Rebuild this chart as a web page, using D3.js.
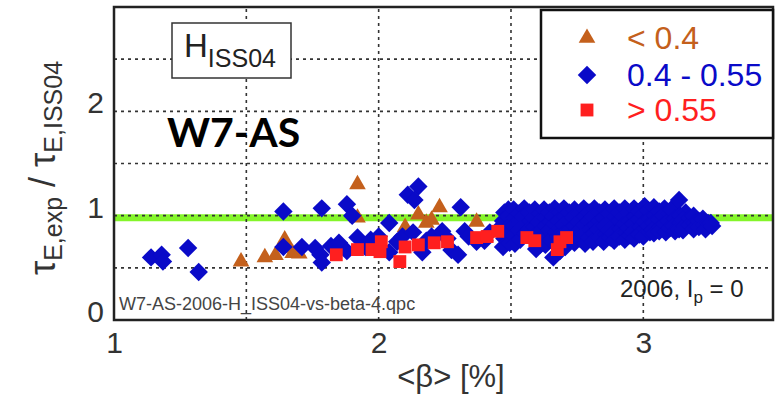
<!DOCTYPE html>
<html>
<head>
<meta charset="utf-8">
<script src="https://cdn.jsdelivr.net/npm/d3@7"></script>
<style>
  body { margin: 0; background: #fff; }
  svg { display: block; font-family: "Liberation Sans", Arial, sans-serif; }
</style>
</head>
<body>
<div id="chart"></div>
<script>
// tick values and grid
const xTicks = [1, 2, 3];
const yTicks = [0, 1, 2];
const xGrid = [1.5, 2, 2.5, 3];
const yGrid = [0.5, 1, 1.5, 2, 2.5];
const refLevel = 0.98;

const legendLabels = ["< 0.4", "0.4 - 0.55", "> 0.55"];

// <beta> [%], tau ratio  --  "< 0.4"
const lowBeta = [
  [1.48, 0.56], [1.57, 0.60], [1.61, 0.62], [1.645, 0.77], [1.66, 0.69],
  [1.675, 0.64], [1.70, 0.635], [1.92, 1.30], [1.92, 0.98], [2.10, 0.89],
  [2.15, 1.01], [2.18, 0.93], [2.20, 0.96], [2.23, 1.08], [2.37, 0.94]
];

// "0.4 - 0.55"
const midBeta = [
  [1.14, 0.60], [1.18, 0.625], [1.185, 0.56], [1.28, 0.69], [1.32, 0.46],
  [1.64, 1.04], [1.785, 1.07], [1.88, 1.11], [1.90, 1.00],
  [1.64, 0.70], [1.71, 0.70], [1.76, 0.69], [1.78, 0.625], [1.785, 0.55],
  [1.82, 0.71], [1.85, 0.74], [1.88, 0.66], [1.92, 0.79], [1.95, 0.70],
  [1.97, 0.77], [2.00, 0.80], [2.04, 0.93], [2.07, 0.75], [2.04, 0.65],
  [2.09, 0.80], [2.11, 1.20], [2.15, 1.28], [2.135, 1.15],
  [2.13, 0.84], [2.165, 0.65], [2.18, 0.76], [2.20, 0.80], [2.24, 0.85],
  [2.26, 0.78], [2.275, 0.67], [2.30, 0.625], [2.325, 0.85], [2.31, 1.08],
  [2.34, 0.80], [2.37, 0.75], [2.40, 0.76], [2.42, 0.84], [2.46, 0.89],
  [2.49, 1.06], [2.505, 0.96],
  [2.475, 1.03], [2.47, 0.95], [2.48, 0.86], [2.475, 0.78], [2.47, 0.70],
  [2.49, 0.99], [2.495, 0.90], [2.49, 0.82], [2.495, 0.74],
  [2.51, 1.06], [2.515, 0.98], [2.51, 0.90], [2.51, 0.81], [2.515, 0.73],
  [2.53, 1.02], [2.535, 0.94], [2.53, 0.86], [2.535, 0.77],
  [2.55, 1.07], [2.545, 0.99], [2.55, 0.91], [2.555, 0.83],
  [2.57, 1.03], [2.575, 0.95], [2.57, 0.87], [2.575, 0.80],
  [2.59, 1.06], [2.585, 0.98], [2.59, 0.89], [2.59, 0.81], [2.595, 0.68],
  [2.61, 1.02], [2.605, 0.94], [2.61, 0.85], [2.61, 0.72],
  [2.625, 1.06], [2.63, 0.98], [2.63, 0.90], [2.625, 0.81], [2.63, 0.72],
  [2.645, 1.03], [2.65, 0.94], [2.645, 0.86], [2.65, 0.77],
  [2.665, 1.07], [2.66, 0.99], [2.665, 0.92], [2.67, 0.84], [2.66, 0.60],
  [2.685, 1.03], [2.68, 0.95], [2.685, 0.88], [2.68, 0.80], [2.685, 0.66],
  [2.70, 1.07], [2.705, 0.99], [2.70, 0.91], [2.70, 0.83], [2.705, 0.70],
  [2.72, 1.03], [2.72, 0.95], [2.725, 0.87], [2.72, 0.78],
  [2.74, 1.06], [2.735, 0.98], [2.74, 0.90], [2.745, 0.82], [2.74, 0.74],
  [2.76, 1.02], [2.755, 0.94], [2.76, 0.86], [2.76, 0.78],
  [2.775, 1.07], [2.78, 0.99], [2.78, 0.91], [2.775, 0.82], [2.78, 0.73],
  [2.795, 1.03], [2.795, 0.95], [2.80, 0.87], [2.795, 0.79],
  [2.815, 1.07], [2.81, 0.99], [2.82, 0.91], [2.815, 0.83], [2.81, 0.75],
  [2.835, 1.03], [2.835, 0.95], [2.83, 0.87], [2.835, 0.79],
  [2.855, 1.06], [2.85, 0.98], [2.855, 0.90], [2.86, 0.82], [2.85, 0.75],
  [2.87, 1.02], [2.875, 0.94], [2.87, 0.86], [2.875, 0.79],
  [2.89, 1.07], [2.895, 0.99], [2.89, 0.91], [2.885, 0.83], [2.89, 0.76],
  [2.91, 1.03], [2.91, 0.95], [2.915, 0.87], [2.91, 0.80],
  [2.93, 1.07], [2.925, 0.99], [2.93, 0.92], [2.935, 0.84], [2.93, 0.77],
  [2.945, 1.03], [2.95, 0.95], [2.945, 0.88], [2.95, 0.81],
  [2.965, 1.07], [2.97, 0.99], [2.965, 0.92], [2.96, 0.84], [2.965, 0.78],
  [2.985, 1.04], [2.985, 0.96], [2.99, 0.89], [2.985, 0.82],
  [3.005, 1.09], [3.00, 1.01], [3.005, 0.94], [3.01, 0.87], [3.00, 0.80],
  [3.02, 1.05], [3.025, 0.97], [3.02, 0.90], [3.025, 0.84],
  [3.04, 1.08], [3.045, 1.00], [3.04, 0.93], [3.035, 0.86], [3.04, 0.83],
  [3.06, 1.04], [3.06, 0.96], [3.065, 0.89], [3.06, 0.85],
  [3.08, 1.07], [3.075, 1.00], [3.08, 0.92], [3.085, 0.84],
  [3.10, 1.02], [3.095, 0.95], [3.10, 0.88],
  [3.105, 1.06], [3.12, 0.97], [3.115, 0.90], [3.12, 0.85], [3.135, 1.15],
  [3.14, 1.00], [3.14, 0.93], [3.135, 0.87],
  [3.16, 1.03], [3.15, 0.96], [3.155, 0.90], [3.15, 0.86],
  [3.175, 0.98], [3.175, 0.91],
  [3.19, 1.00], [3.195, 0.93], [3.19, 0.87],
  [3.21, 0.95], [3.21, 0.89],
  [3.225, 0.97], [3.23, 0.91], [3.235, 0.87],
  [3.245, 0.93], [3.255, 0.93], [3.26, 0.90]
];

// "> 0.55"
const highBeta = [
  [1.84, 0.625], [1.92, 0.675], [1.975, 0.675], [2.01, 0.75], [2.005, 0.655],
  [2.08, 0.56], [2.10, 0.70], [2.15, 0.72], [2.21, 0.74], [2.26, 0.75],
  [2.37, 0.79], [2.41, 0.80], [2.45, 0.85], [2.56, 0.79], [2.59, 0.76],
  [2.675, 0.675], [2.685, 0.75], [2.71, 0.79]
];

const width = 775, height = 402;
const colors = { low: "#c4601c", mid: "#0a0ac8", high: "#ff1f1f" };

const svg = d3.select("#chart").append("svg")
  .attr("width", width)
  .attr("height", height);

const x = d3.scaleLinear().domain([1, 3.49]).range([114, 773]);
const y = d3.scaleLinear().domain([0, 3]).range([320, 7]);

// reference line at ~1
svg.append("line")
  .attr("x1", x.range()[0]).attr("x2", x.range()[1])
  .attr("y1", y(refLevel)).attr("y2", y(refLevel))
  .attr("stroke", "#84f52a")
  .attr("stroke-width", 7);

// dotted grid
svg.append("g").selectAll("line")
  .data(xGrid).join("line")
  .attr("x1", d => x(d)).attr("x2", d => x(d))
  .attr("y1", y.range()[0]).attr("y2", y.range()[1])
  .attr("stroke", "#333").attr("stroke-width", 1.6)
  .attr("stroke-dasharray", "3,4");

svg.append("g").selectAll("line")
  .data(yGrid).join("line")
  .attr("x1", x.range()[0]).attr("x2", x.range()[1])
  .attr("y1", d => y(d)).attr("y2", d => y(d))
  .attr("stroke", "#333").attr("stroke-width", 1.6)
  .attr("stroke-dasharray", "3,4");

// small file name label
svg.append("text")
  .attr("x", 119).attr("y", 310)
  .attr("font-size", 18).attr("fill", "#444")
  .text("W7-AS-2006-H_ISS04-vs-beta-4.qpc");

// markers
const tri = d3.symbol().type(d3.symbolTriangle).size(120);
const sq = d3.symbol().type(d3.symbolSquare).size(165);
const dia = d3.symbol().type(d3.symbolSquare).size(170);

svg.append("g").selectAll("path")
  .data(lowBeta).join("path")
  .attr("d", tri)
  .attr("transform", d => `translate(${x(d[0])},${y(d[1])})`)
  .attr("fill", colors.low);

svg.append("g").selectAll("path")
  .data(midBeta).join("path")
  .attr("d", dia)
  .attr("transform", d => `translate(${x(d[0])},${y(d[1])}) rotate(45)`)
  .attr("fill", colors.mid);

svg.append("g").selectAll("path")
  .data(highBeta).join("path")
  .attr("d", sq)
  .attr("transform", d => `translate(${x(d[0])},${y(d[1])})`)
  .attr("fill", colors.high);

// frame
svg.append("rect")
  .attr("x", x.range()[0]).attr("y", y.range()[1])
  .attr("width", x.range()[1] - x.range()[0])
  .attr("height", y.range()[0] - y.range()[1])
  .attr("fill", "none").attr("stroke", "#222").attr("stroke-width", 2.5);

// axes
const xAxis = svg.append("g")
  .attr("transform", `translate(0,${y.range()[0]})`)
  .call(d3.axisBottom(x).tickValues(xTicks).tickSize(0).tickPadding(12).tickFormat(d3.format("d")));
xAxis.select(".domain").remove();
xAxis.selectAll("text").attr("font-size", 30).attr("fill", "#333")
  .attr("font-family", "Liberation Sans, Arial, sans-serif");

const yAxis = svg.append("g")
  .attr("transform", `translate(${x.range()[0]},0)`)
  .call(d3.axisLeft(y).tickValues(yTicks).tickSize(0).tickPadding(10).tickFormat(d3.format("d")));
yAxis.select(".domain").remove();
yAxis.selectAll("text").attr("font-size", 30).attr("fill", "#333").attr("dy", "0.05em")
  .attr("font-family", "Liberation Sans, Arial, sans-serif");

// axis titles
svg.append("text")
  .attr("x", 451).attr("y", 387)
  .attr("text-anchor", "middle")
  .attr("font-size", 31).attr("fill", "#333")
  .text("<β> [%]");

const yTitle = svg.append("text")
  .attr("transform", "translate(55,168) rotate(-90)")
  .attr("text-anchor", "middle")
  .attr("font-size", 36).attr("fill", "#333");
yTitle.append("tspan").text("τ");
yTitle.append("tspan").attr("font-size", 25).attr("dy", 7).text("E,exp");
yTitle.append("tspan").attr("dy", -7).text(" / τ");
yTitle.append("tspan").attr("font-size", 25).attr("dy", 7).text("E,ISS04");

// H_ISS04 box
svg.append("rect")
  .attr("x", 172).attr("y", 23).attr("width", 119).attr("height", 55)
  .attr("fill", "#fff").attr("stroke", "#333").attr("stroke-width", 1.5);
const hLabel = svg.append("text")
  .attr("x", 184).attr("y", 57)
  .attr("font-size", 33).attr("fill", "#222");
hLabel.append("tspan").text("H");
hLabel.append("tspan").attr("font-size", 25).attr("dy", 10).text("ISS04");

svg.append("text")
  .attr("x", 167).attr("y", 147)
  .attr("font-family", "Lato, 'Open Sans', sans-serif")
  .attr("font-weight", "bold")
  .attr("font-size", 41).attr("fill", "#000")
  .text("W7-AS");

// shot info
const info = svg.append("text")
  .attr("x", 620).attr("y", 297)
  .attr("font-size", 24).attr("fill", "#222");
info.append("tspan").text("2006, I");
info.append("tspan").attr("font-size", 17).attr("dy", 6).text("p");
info.append("tspan").attr("dy", -6).text(" = 0");

// legend
const legend = svg.append("g");
legend.append("rect")
  .attr("x", 541).attr("y", 10).attr("width", 232).attr("height", 128)
  .attr("fill", "#fff").attr("stroke", "#111").attr("stroke-width", 2.5);

const legendRows = [
  { label: legendLabels[0], color: colors.low, sym: tri, rot: 0, cy: 38 },
  { label: legendLabels[1], color: colors.mid, sym: dia, rot: 45, cy: 75 },
  { label: legendLabels[2], color: colors.high, sym: sq, rot: 0, cy: 110 }
];
legendRows.forEach(r => {
  legend.append("path")
    .attr("d", r.sym)
    .attr("transform", `translate(587,${r.cy}) rotate(${r.rot})`)
    .attr("fill", r.color);
  legend.append("text")
    .attr("x", 627).attr("y", r.cy + 11)
    .attr("font-size", 32).attr("fill", r.color)
    .text(r.label);
});
</script>
</body>
</html>
